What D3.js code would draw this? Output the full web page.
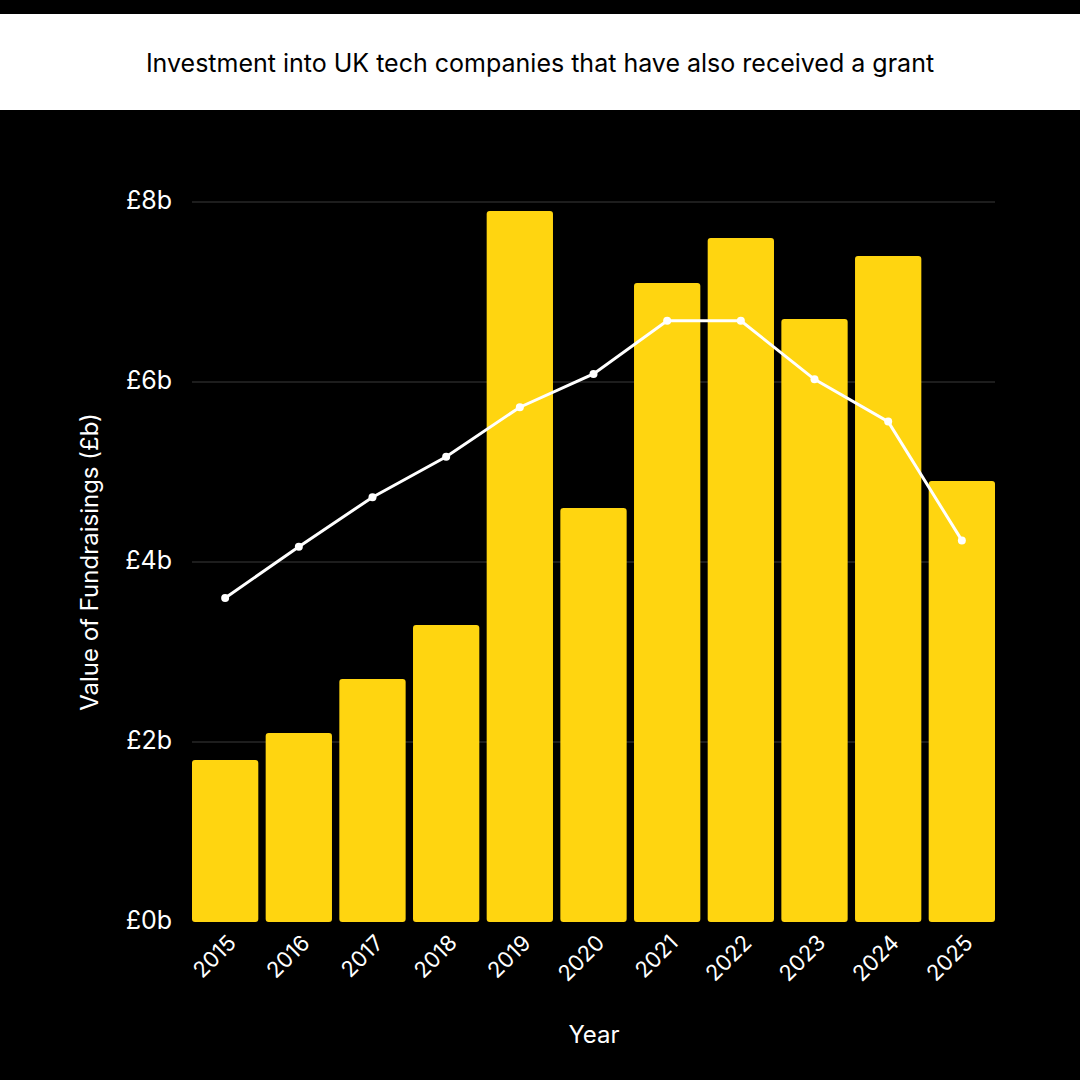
<!DOCTYPE html>
<html>
<head>
<meta charset="utf-8">
<script src="https://d3js.org/d3.v7.min.js"></script>
<style>
  html, body { margin: 0; padding: 0; background: #000; }
  svg { display: block; font-family: Inter, "Open Sans", sans-serif; }
</style>
</head>
<body>
<svg id="chart" width="1080" height="1080"></svg>
<script>
// data
const years = ['2015', '2016', '2017', '2018', '2019', '2020', '2021', '2022', '2023', '2024', '2025'];
const fundraising = [1.8, 2.1, 2.7, 3.3, 7.9, 4.6, 7.1, 7.6, 6.7, 7.4, 4.9];
const trend = [3.6, 4.17, 4.72, 5.17, 5.72, 6.09, 6.68, 6.68, 6.03, 5.56, 4.24];
const yTicks = [0, 2, 4, 6, 8];

const svg = d3.select('#chart');

// title band
svg.append('rect').attr('x', 0).attr('y', 14).attr('width', 1080).attr('height', 96).attr('fill', '#fff');
svg.append('text')
  .attr('x', 540).attr('y', 72)
  .attr('text-anchor', 'middle')
  .style('font-size', '25px')
  .style('fill', '#000')
  .text('Investment into UK tech companies that have also received a grant');

const margin = { top: 202, right: 85, bottom: 158, left: 192 };
const width = 1080 - margin.left - margin.right;
const height = 1080 - margin.top - margin.bottom;

const g = svg.append('g').attr('transform', `translate(${margin.left},${margin.top})`);

const x = d3.scaleBand().domain(years).range([0, width]).paddingInner(0.1).paddingOuter(0);
const y = d3.scaleLinear().domain([0, 8]).range([height, 0]);

// gridlines
g.selectAll('.grid')
  .data(yTicks.filter(d => d > 0))
  .enter()
  .append('line')
  .attr('x1', 0).attr('x2', width)
  .attr('y1', d => y(d)).attr('y2', d => y(d))
  .attr('stroke', '#3a3a3a').attr('stroke-width', 1);

// y tick labels
g.selectAll('.ytick')
  .data(yTicks)
  .enter()
  .append('text')
  .attr('x', -20)
  .attr('y', d => y(d))
  .attr('text-anchor', 'end')
  .attr('dominant-baseline', 'middle')
  .style('font-size', '25px')
  .style('fill', '#fff')
  .text(d => `£${d}b`);

// bars
g.selectAll('.bar')
  .data(years)
  .enter()
  .append('rect')
  .attr('x', d => x(d))
  .attr('y', (d, i) => y(fundraising[i]))
  .attr('width', x.bandwidth())
  .attr('height', (d, i) => height - y(fundraising[i]))
  .attr('rx', 3)
  .attr('fill', '#FFD510');

// trend line
const line = d3.line()
  .x((d, i) => x(years[i]) + x.bandwidth() / 2)
  .y(d => y(d));

g.append('path')
  .datum(trend)
  .attr('d', line)
  .attr('fill', 'none')
  .attr('stroke', '#fff')
  .attr('stroke-width', 3);

g.selectAll('.dot')
  .data(trend)
  .enter()
  .append('circle')
  .attr('cx', (d, i) => x(years[i]) + x.bandwidth() / 2)
  .attr('cy', d => y(d))
  .attr('r', 4)
  .attr('fill', '#fff');

// x tick labels
g.selectAll('.xtick')
  .data(years)
  .enter()
  .append('text')
  .attr('transform', d => `translate(${x(d) + x.bandwidth() / 2 + 8},${height + 18}) rotate(-45)`)
  .attr('text-anchor', 'end')
  .attr('dominant-baseline', 'middle')
  .style('font-size', '22px')
  .style('fill', '#fff')
  .text(d => d);

// axis titles
svg.append('text')
  .attr('x', 594).attr('y', 1043)
  .attr('text-anchor', 'middle')
  .style('font-size', '24px')
  .style('fill', '#fff')
  .text('Year');

svg.append('text')
  .attr('transform', 'translate(98,562) rotate(-90)')
  .attr('text-anchor', 'middle')
  .style('font-size', '24px')
  .style('fill', '#fff')
  .text('Value of Fundraisings (£b)');
</script>
</body>
</html>
